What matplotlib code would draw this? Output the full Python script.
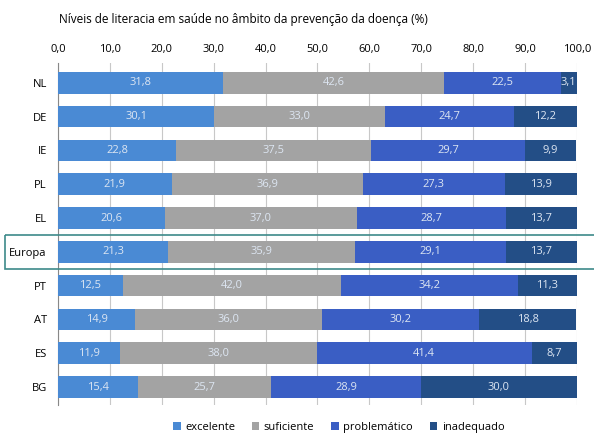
import numpy as np
import matplotlib.pyplot as plt
from matplotlib.patches import Rectangle

# dados
paises = ['NL', 'DE', 'IE', 'PL', 'EL', 'Europa', 'PT', 'AT', 'ES', 'BG']
excelente = [31.8, 30.1, 22.8, 21.9, 20.6, 21.3, 12.5, 14.9, 11.9, 15.4]
suficiente = [42.6, 33.0, 37.5, 36.9, 37.0, 35.9, 42.0, 36.0, 38.0, 25.7]
problematico = [22.5, 24.7, 29.7, 27.3, 28.7, 29.1, 34.2, 30.2, 41.4, 28.9]
inadequado = [3.1, 12.2, 9.9, 13.9, 13.7, 13.7, 11.3, 18.8, 8.7, 30.0]
nomes = ['excelente', 'suficiente', 'problemático', 'inadequado']
cores = ['#4a8ad4', '#a3a3a3', '#3a5ec4', '#234e86']

plt.rcParams['font.family'] = ['Open Sans', 'DejaVu Sans']
fig = plt.figure(figsize=(5.94, 4.34), dpi=100)
ax = fig.add_axes([0.0976, 0.067, 0.8735, 0.788])

y = np.arange(len(paises))
esq = np.zeros(len(paises))
for serie, nome, cor in zip([excelente, suficiente, problematico, inadequado], nomes, cores):
    vals = np.array(serie)
    ax.barh(y, vals, left=esq, height=0.64, color=cor, label=nome, zorder=3)
    for yi, l, v in zip(y, esq, vals):
        ax.text(l + v / 2, yi, f'{v:.1f}'.replace('.', ','), ha='center', va='center',
                color='#dde6f2', fontsize=8, zorder=4)
    esq += vals

ax.set_xlim(0, 100)
ax.set_ylim(9.53, -0.59)
ax.set_yticks(y)
ax.set_yticklabels(paises, fontsize=8)
ax.set_xticks(np.arange(0, 101, 10))
ax.set_xticklabels([f'{v:.1f}'.replace('.', ',') for v in np.arange(0, 101, 10)], fontsize=8)
ax.xaxis.tick_top()
ax.tick_params(axis='x', length=0, pad=6)
ax.tick_params(axis='y', length=0, pad=8)
ax.grid(axis='x', color='#c8c8c8', linewidth=0.8, zorder=0)
for s in ['top', 'right', 'bottom']:
    ax.spines[s].set_visible(False)
ax.spines['left'].set_color('#888888')

# caixa Europa
ax.add_patch(Rectangle((-10.2, 4.5), 115, 1.0, fill=False, edgecolor='#3d8a8a',
                       linewidth=1.2, clip_on=False, zorder=5))

fig.text(0.1, 0.955, 'Níveis de literacia em saúde no âmbito da prevenção da doença (%)',
         fontsize=8.5, ha='left', va='center')
fig.legend(loc='lower center', bbox_to_anchor=(0.57, -0.02), ncol=4, frameon=False,
           fontsize=8, handlelength=0.7, handleheight=0.7, columnspacing=1.5, handletextpad=0.4)

fig.savefig('out.png', dpi=100)
